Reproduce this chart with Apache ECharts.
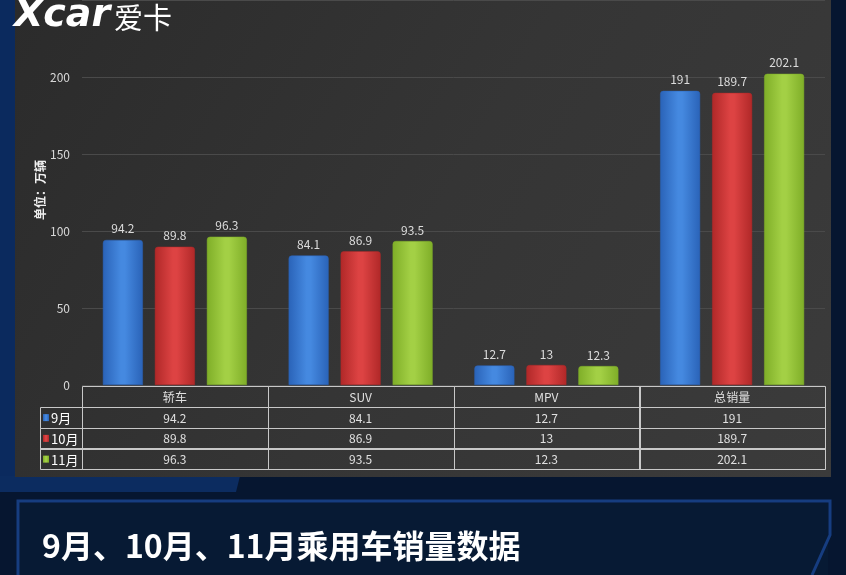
<!DOCTYPE html>
<html><head><meta charset="utf-8">
<script src="https://cdn.jsdelivr.net/npm/echarts@6/dist/echarts.min.js"></script>
<style>html,body{margin:0;padding:0;background:#061630;}#c{width:846px;height:575px;}</style>
</head><body><div id="c"></div>
<script>
const categories = ['轿车', 'SUV', 'MPV', '总销量'];
const months = ['9月', '10月', '11月'];
const sales9 = [94.2, 84.1, 12.7, 191];
const sales10 = [89.8, 86.9, 13, 189.7];
const sales11 = [96.3, 93.5, 12.3, 202.1];
const yTicks = [0, 50, 100, 150, 200];
const unitLabel = '单位：万辆';
const titleText = '9月、10月、11月乘用车销量数据';

const seriesValues = [sales9, sales10, sales11];
const FONT = '"Microsoft YaHei","Noto Sans CJK SC","Noto Sans",sans-serif';
function grad(edge, mid) {
  return new echarts.graphic.LinearGradient(0, 0, 1, 0, [
    {offset: 0, color: edge}, {offset: 0.45, color: mid}, {offset: 0.55, color: mid}, {offset: 1, color: edge}
  ]);
}
const palettes = [
  ['#2a63b8', '#4589e0'],
  ['#b02828', '#dd4343'],
  ['#7fae28', '#a3d045']
];

const chart = echarts.init(document.getElementById('c'));

const rowsText = [categories].concat(seriesValues.map(a => a.map(v => String(v))));
const cellData = [], cellTexts = [];
for (let r = 0; r < rowsText.length; r++) {
  for (let i = 0; i < categories.length; i++) {
    cellData.push([i, r]);
    cellTexts.push(rowsText[r][i]);
  }
}
const rowLabelData = months.map((m, k) => [0, k + 1]);

const option = {
  animation: false,
  backgroundColor: '#061630',
  graphic: [
    {type: 'rect', z: -10, shape: {x: 0, y: 0, width: 846, height: 575}, style: {fill: '#061630'}},
    {type: 'rect', z: -10, shape: {x: 0, y: 0, width: 16, height: 490}, style: {fill: '#0b2a5e'}},
    {type: 'polygon', z: -10, shape: {points: [[0, 476], [240, 476], [236, 492], [0, 492]]}, style: {fill: '#0c2c60'}},
    {type: 'rect', z: -9, shape: {x: 15, y: 0, width: 816, height: 477},
      style: {fill: new echarts.graphic.LinearGradient(0, 0, 1, 1, [
        {offset: 0, color: '#2b2b2b'}, {offset: 0.5, color: '#353535'}, {offset: 1, color: '#3b3b3b'}])}},
    {type: 'polyline', z: -8, shape: {points: [[18, 575], [18, 501], [830, 501], [830, 535], [812, 575]]},
      style: {stroke: '#163d80', lineWidth: 3, fill: null}},
    {type: 'rect', z: -9, shape: {x: 20, y: 503, width: 808, height: 72}, style: {fill: '#071a34'}},
    {type: 'text', z: 10, style: {text: titleText, x: 42, y: 546, verticalAlign: 'middle',
      font: 'bold 32px ' + FONT, fill: '#ffffff'}},
    {type: 'text', z: 10, style: {text: 'Xcar', x: 14, y: 16, verticalAlign: 'middle',
      font: 'italic 900 38px "DejaVu Sans",sans-serif', fill: '#ffffff'}},
    {type: 'text', z: 10, style: {text: '爱卡', x: 114, y: 18, verticalAlign: 'middle',
      font: '29px ' + FONT, fill: '#ffffff'}},
    {type: 'text', z: 10, rotation: Math.PI / 2, x: 40, y: 190,
      style: {text: unitLabel, align: 'center', verticalAlign: 'middle', font: 'bold 12px ' + FONT, fill: '#f0f0f0'}}
  ],
  grid: [
    {left: 82, right: 21, top: 0, bottom: 190},
    {left: 82, right: 21, top: 386, bottom: 106}
  ],
  xAxis: [
    {type: 'category', gridIndex: 0, data: categories, axisLine: {show: false}, axisTick: {show: false}, axisLabel: {show: false}},
    {type: 'category', gridIndex: 1, data: categories, show: false}
  ],
  yAxis: [
    {type: 'value', gridIndex: 0, min: 0, max: 250, interval: 50,
      axisLine: {show: false}, axisTick: {show: false},
      axisLabel: {color: '#d8d8d8', fontSize: 12, fontFamily: FONT, margin: 12,
        formatter: v => (yTicks.indexOf(v) >= 0 ? String(v) : '')},
      splitLine: {lineStyle: {color: '#4a4a4a', width: 1}}},
    {type: 'category', gridIndex: 1, data: [''].concat(months), inverse: true, show: false}
  ],
  series: seriesValues.map((vals, k) => ({
    type: 'bar', name: months[k], xAxisIndex: 0, yAxisIndex: 0, data: vals,
    barWidth: 40, barGap: '30%',
    itemStyle: {color: grad(palettes[k][0], palettes[k][1]), borderRadius: [3, 3, 0, 0],
      borderColor: palettes[k][0], borderWidth: 0.5},
    label: {show: true, position: 'top', distance: 5, color: '#dcdcdc', fontSize: 12, fontFamily: FONT}
  })).concat([
    {type: 'custom', xAxisIndex: 1, yAxisIndex: 1, data: cellData, clip: false,
      renderItem: function (params, api) {
        const c = api.coord([api.value(0), api.value(1)]);
        const s = api.size([1, 1]);
        return {type: 'group', children: [
          {type: 'rect', shape: {x: Math.round(c[0] - s[0] / 2) + 0.5, y: Math.round(c[1] - s[1] / 2) + 0.5, width: Math.round(s[0]), height: Math.round(s[1])},
            style: {fill: 'none', stroke: '#c8c8c8', lineWidth: 1}},
          {type: 'text', style: {text: cellTexts[params.dataIndex], x: c[0], y: c[1] + 1, align: 'center', verticalAlign: 'middle',
            font: '12px ' + FONT, fill: '#e0e0e0'}}
        ]};
      }},
    {type: 'custom', xAxisIndex: 1, yAxisIndex: 1, data: rowLabelData, clip: false,
      renderItem: function (params, api) {
        const c = api.coord([api.value(0), api.value(1)]);
        const s = api.size([1, 1]);
        const x0 = Math.round(c[0] - s[0] / 2) - 42;
        const y0 = Math.round(c[1] - s[1] / 2);
        const k = params.dataIndex;
        return {type: 'group', children: [
          {type: 'rect', shape: {x: x0 + 0.5, y: y0 + 0.5, width: 42, height: Math.round(s[1])},
            style: {fill: 'none', stroke: '#c8c8c8', lineWidth: 1}},
          {type: 'rect', shape: {x: x0 + 3, y: c[1] - 3, width: 6, height: 7},
            style: {fill: grad(palettes[k][0], palettes[k][1])}},
          {type: 'text', style: {text: months[k], x: x0 + 11, y: c[1] + 1, align: 'left', verticalAlign: 'middle',
            font: '13px ' + FONT, fill: '#ffffff'}}
        ]};
      }}
  ])
};
chart.setOption(option);
</script>
</body></html>
